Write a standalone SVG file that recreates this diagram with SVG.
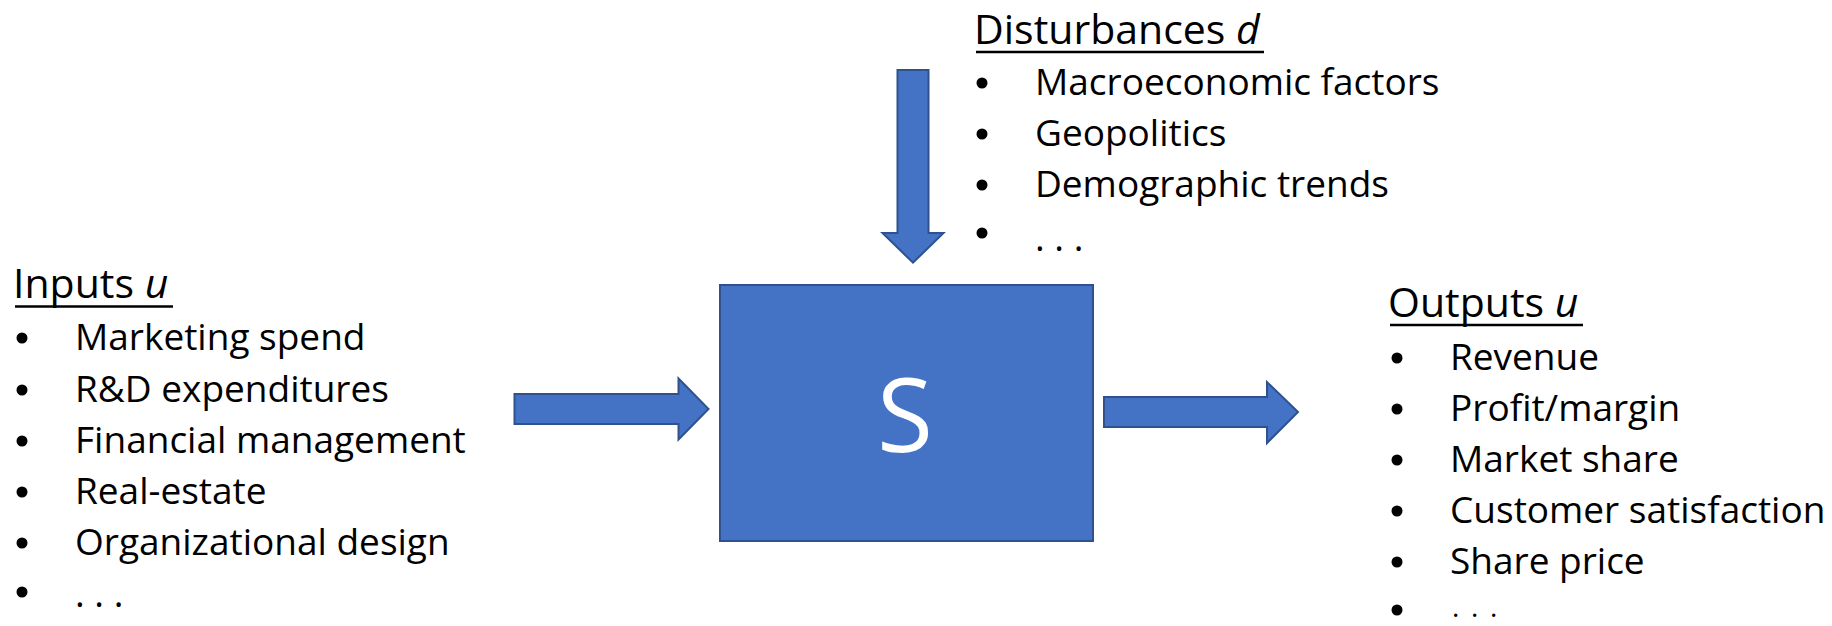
<svg xmlns="http://www.w3.org/2000/svg" width="1832" height="626" viewBox="0 0 1832 626">
  <style>
    .shape { fill: #4472C4; stroke: #2F528F; stroke-width: 2; stroke-linejoin: miter; }
    .head { font-family: "Open Sans", "Liberation Sans", sans-serif; font-size: 41px; fill: #000; }
    .item { font-family: "Open Sans", "Liberation Sans", sans-serif; font-size: 37px; fill: #000; }
    .dots-small { font-family: "Open Sans", "Liberation Sans", sans-serif; font-size: 28px; letter-spacing: 2.2px; fill: #000; }
    .var { font-style: italic; }
    .ul { stroke: #000; stroke-width: 2.5; }
    .bul { fill: #000; }
    .sys { font-family: "Open Sans", "Liberation Sans", sans-serif; font-size: 102px; fill: #fff; text-anchor: middle; }
  </style>
  <rect width="1832" height="626" fill="#fff"/>

  <g id="connectors">
    <path id="arrow-disturbances" class="shape" d="M897.5,70 H928.5 V233 H943.5 L913,262.7 L882.5,233 H897.5 Z"/>
    <path id="arrow-inputs" class="shape" d="M514.5,394 H678.5 V378.5 L708.5,409 L678.5,439.5 V424 H514.5 Z"/>
    <path id="arrow-outputs" class="shape" d="M1104,397 H1267 V382 L1298,412 L1267,443 V427 H1104 Z"/>
  </g>

  <g id="node-system">
    <rect class="shape" x="720" y="285" width="373" height="256"/>
    <text class="sys" x="905" y="452">S</text>
  </g>

  <g id="node-disturbances">
    <text class="head" x="974" y="44">Disturbances <tspan class="var">d</tspan></text>
    <line class="ul" x1="976" y1="52" x2="1264" y2="52"/>
    <circle class="bul" cx="982" cy="83" r="5.5"/>
    <circle class="bul" cx="982" cy="134" r="5.5"/>
    <circle class="bul" cx="982" cy="185" r="5.5"/>
    <circle class="bul" cx="982" cy="233" r="5.5"/>
    <text class="item" x="1035" y="95">Macroeconomic factors</text>
    <text class="item" x="1035" y="146">Geopolitics</text>
    <text class="item" x="1035" y="197">Demographic trends</text>
    <text class="item" x="1035" y="251">. . .</text>
  </g>

  <g id="node-inputs">
    <text class="head" x="13" y="298">Inputs <tspan class="var">u</tspan></text>
    <line class="ul" x1="15" y1="306.5" x2="173" y2="306.5"/>
    <circle class="bul" cx="22" cy="338" r="5.5"/>
    <circle class="bul" cx="22" cy="390" r="5.5"/>
    <circle class="bul" cx="22" cy="441" r="5.5"/>
    <circle class="bul" cx="22" cy="492" r="5.5"/>
    <circle class="bul" cx="22" cy="543" r="5.5"/>
    <circle class="bul" cx="22" cy="592" r="5.5"/>
    <text class="item" x="75" y="350">Marketing spend</text>
    <text class="item" x="75" y="402">R&amp;D expenditures</text>
    <text class="item" x="75" y="453">Financial management</text>
    <text class="item" x="75" y="504">Real-estate</text>
    <text class="item" x="75" y="555">Organizational design</text>
    <text class="item" x="75" y="607">. . .</text>
  </g>

  <g id="node-outputs">
    <text class="head" x="1388" y="317">Outputs <tspan class="var">u</tspan></text>
    <line class="ul" x1="1390" y1="325" x2="1583" y2="325"/>
    <circle class="bul" cx="1397" cy="358" r="5.5"/>
    <circle class="bul" cx="1397" cy="409" r="5.5"/>
    <circle class="bul" cx="1397" cy="460" r="5.5"/>
    <circle class="bul" cx="1397" cy="511" r="5.5"/>
    <circle class="bul" cx="1397" cy="562" r="5.5"/>
    <circle class="bul" cx="1397" cy="610" r="5.5"/>
    <text class="item" x="1450" y="370">Revenue</text>
    <text class="item" x="1450" y="421">Profit/margin</text>
    <text class="item" x="1450" y="472">Market share</text>
    <text class="item" x="1450" y="523">Customer satisfaction</text>
    <text class="item" x="1450" y="574">Share price</text>
    <text class="dots-small" x="1452" y="617">. . .</text>
  </g>
</svg>
